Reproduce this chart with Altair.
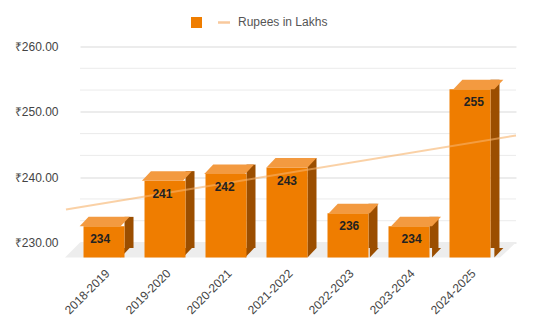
import altair as alt
import pandas as pd

# ---- data ----
years = ["2018-2019", "2019-2020", "2020-2021", "2021-2022", "2022-2023", "2023-2024", "2024-2025"]
values = [234, 241, 242, 243, 236, 234, 255]
major_ticks = [230, 240, 250, 260]
minor_ticks = [233.333, 236.667, 243.333, 246.667, 253.333, 256.667]
legend_label = "Rupees in Lakhs"
base_value = 230

df = pd.DataFrame({"year": years, "value": values})
floor_df = pd.DataFrame({"value": [base_value]})
minor_df = pd.DataFrame({"value": minor_ticks})
legend_df = pd.DataFrame({"label": [legend_label]})

# ---- style ----
W, H = 436, 196
FRONT = "#ef7d00"
TOP = "#f39a40"
SIDE = "#9b4e00"
FLOOR = "#ededed"
FONT = "Liberation Sans"

x_scale = alt.Scale(domain=years, paddingInner=0.328, paddingOuter=0.238)
y_scale = alt.Scale(domain=[230, 260], nice=False, zero=False)

x_plain = alt.X("year:N", scale=x_scale, sort=None, axis=None)
x_axis = alt.X(
    "year:N", scale=x_scale, sort=None, title=None,
    axis=alt.Axis(labelAngle=-45, labelAlign="right", labelBaseline="top",
                  labelOffset=-11, labelPadding=25, ticks=False, tickSize=0,
                  domain=False, grid=False, labelFont=FONT, labelFontSize=12,
                  labelColor="#444444", labelOverlap=False),
)
y_axis_def = alt.Axis(
    values=major_ticks,
    labelExpr="'₹' + format(datum.value, '.2f')",
    ticks=False, tickSize=0, domain=False, labelPadding=22, labelOverlap=False,
    labelFont=FONT, labelFontSize=12, labelColor="#444444",
    grid=True, gridColor="#d9d9d9",
)
y_enc = alt.Y("value:Q", scale=y_scale, title=None, axis=y_axis_def)

# minor grid lines
minor = alt.Chart(minor_df).mark_rule(color="#ebebeb", strokeWidth=1).encode(
    x=alt.value(0), x2=alt.value(W), y=y_enc
)

# floor (decorative parallelogram)
floor = alt.Chart(floor_df).mark_point(
    shape="M0,0 L436,0 L420,15 L-15,15 Z", size=4, filled=True, opacity=1,
    strokeWidth=0, color=FLOOR,
).encode(x=alt.value(0), y=y_enc)

# side faces
side = alt.Chart(df).mark_bar(
    width=9, xOffset=14, yOffset=0.5, y2Offset=5.5, color=SIDE
).encode(x=x_plain, y=y_enc, y2=alt.datum(base_value))

side_bottom = alt.Chart(df).mark_point(
    shape="M9.5,5.5 L18.5,5.5 L9.5,15 Z", size=4, filled=True, opacity=1,
    strokeWidth=0, color=SIDE,
).encode(x=x_plain, y=alt.datum(base_value))

# front faces
front = alt.Chart(df).mark_bar(
    xOffset=-11, yOffset=10, y2Offset=15, color=FRONT
).encode(x=x_axis, y=y_enc, y2=alt.datum(base_value))

# top faces
top = alt.Chart(df).mark_point(
    shape="M-31.5,10 L9.5,10 L18.5,0.5 L-22.5,0.5 Z", size=4, filled=True,
    opacity=1, strokeWidth=0, color=TOP,
).encode(x=x_plain, y=y_enc)

# trendline (linear regression)
trend = alt.Chart(df).transform_window(
    idx="row_number()"
).transform_calculate(
    i="datum.idx - 1"
).transform_regression(
    regression="value", on="i", extent=[-0.689, 6.689]
).mark_line(color="#f6b26b", opacity=0.6, strokeWidth=2).encode(
    x=alt.X("i:Q", scale=alt.Scale(domain=[-0.459, 6.689], nice=False, zero=False), axis=None),
    y=y_enc,
)

# value labels
labels = alt.Chart(df).mark_text(
    xOffset=-11, yOffset=23, fontWeight="bold", fontSize=12, color="#222222",
    font=FONT, baseline="middle", align="center",
).encode(x=x_plain, y=y_enc, text="value:Q")

# legend
leg_sq = alt.Chart(legend_df).mark_square(size=121, color=FRONT, opacity=1).encode(
    x=alt.value(116.5), y=alt.value(-24)
)
leg_line = alt.Chart(legend_df).mark_rule(color="#f8c99c", strokeWidth=2.5).encode(
    x=alt.value(138), x2=alt.value(150), y=alt.value(-24)
)
leg_text = alt.Chart(legend_df).mark_text(
    align="left", baseline="middle", fontSize=12, color="#555555", font=FONT
).encode(x=alt.value(158), y=alt.value(-24.5), text="label:N")

chart = alt.layer(
    minor, floor, side, side_bottom, front, top, trend, labels, leg_sq, leg_line, leg_text
).resolve_scale(x="independent").properties(
    width=W, height=H, autosize="none",
    padding={"left": 80, "top": 46.5, "right": 17, "bottom": 86.5},
    background="white",
).configure_view(strokeWidth=0)

chart.save("out.html", embed_options={"renderer": "svg", "actions": False})
